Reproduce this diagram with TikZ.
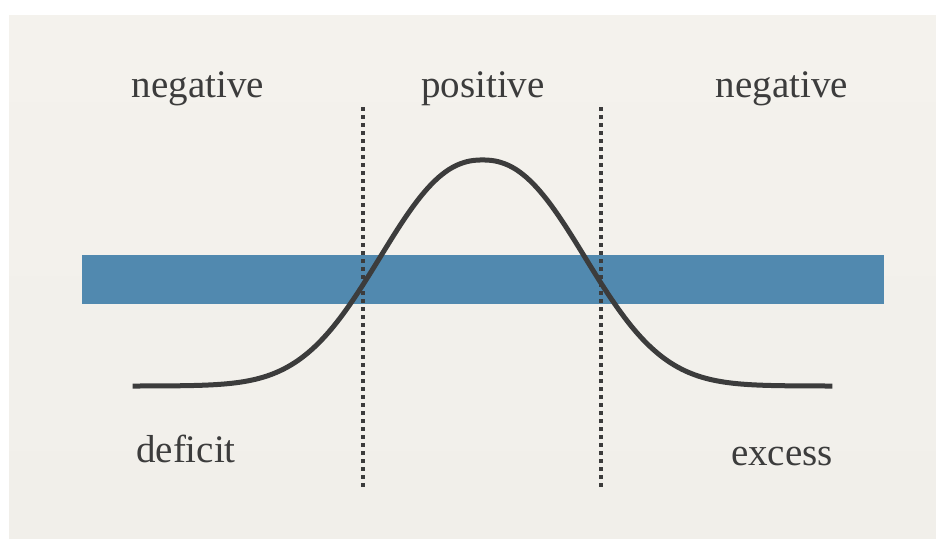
\documentclass[tikz,border=0pt]{standalone}
\usepackage{fontspec}
\setmainfont{Liberation Serif}
\usetikzlibrary{positioning}
\definecolor{paperlight}{HTML}{F4F2ED}
\definecolor{paperlow}{HTML}{F1EFEA}
\definecolor{papermid}{HTML}{E3E1DC}
\definecolor{barblue}{HTML}{5189AF}
\definecolor{inkgrey}{HTML}{3C3C3C}

\begin{document}
\begin{tikzpicture}[
    x=1pt, y=-1pt,
    lbl/.style={font=\fontsize{39}{45}\selectfont, text=inkgrey, anchor=base, inner sep=0pt},
    band/.style={rectangle, fill=barblue, minimum width=802pt, minimum height=49pt, inner sep=0pt},
    divider/.style={draw=inkgrey, line width=3.5pt, dash pattern=on 4pt off 4pt},
    bellcurve/.style={draw=inkgrey, line width=5pt, line join=round},
]
    \fill[white] (0,0) rectangle (936,538);
    \useasboundingbox (0,0) rectangle (936,538);
    \shade[top color=paperlight, middle color=papermid, bottom color=paperlow] (9,15) rectangle (936,538);

    \node[band] (bar) at (483,279.5) {};

    \coordinate (ltop) at (363,107);
    \coordinate (lbot) at (363,488);
    \coordinate (rtop) at (601,107);
    \coordinate (rbot) at (601,488);
    \draw[divider] (ltop) -- (lbot);
    \draw[divider] (rtop) -- (rbot);

    \draw[bellcurve] plot[domain=-2.66:2.66, samples=200]
        ({482.5+131.5*\x}, {386-226*exp(0-pow(abs(\x),2.3))});

    \node[lbl] (negleft) at (198,97) {negative};
    \node[lbl] (pos) at (483,97) {positive};
    \node[lbl] (negright) at (782,97) {negative};
    \node[lbl] (deficit) at (186,462) {deficit};
    \node[lbl] (excess) at (782,465) {excess};
\end{tikzpicture}
\end{document}
